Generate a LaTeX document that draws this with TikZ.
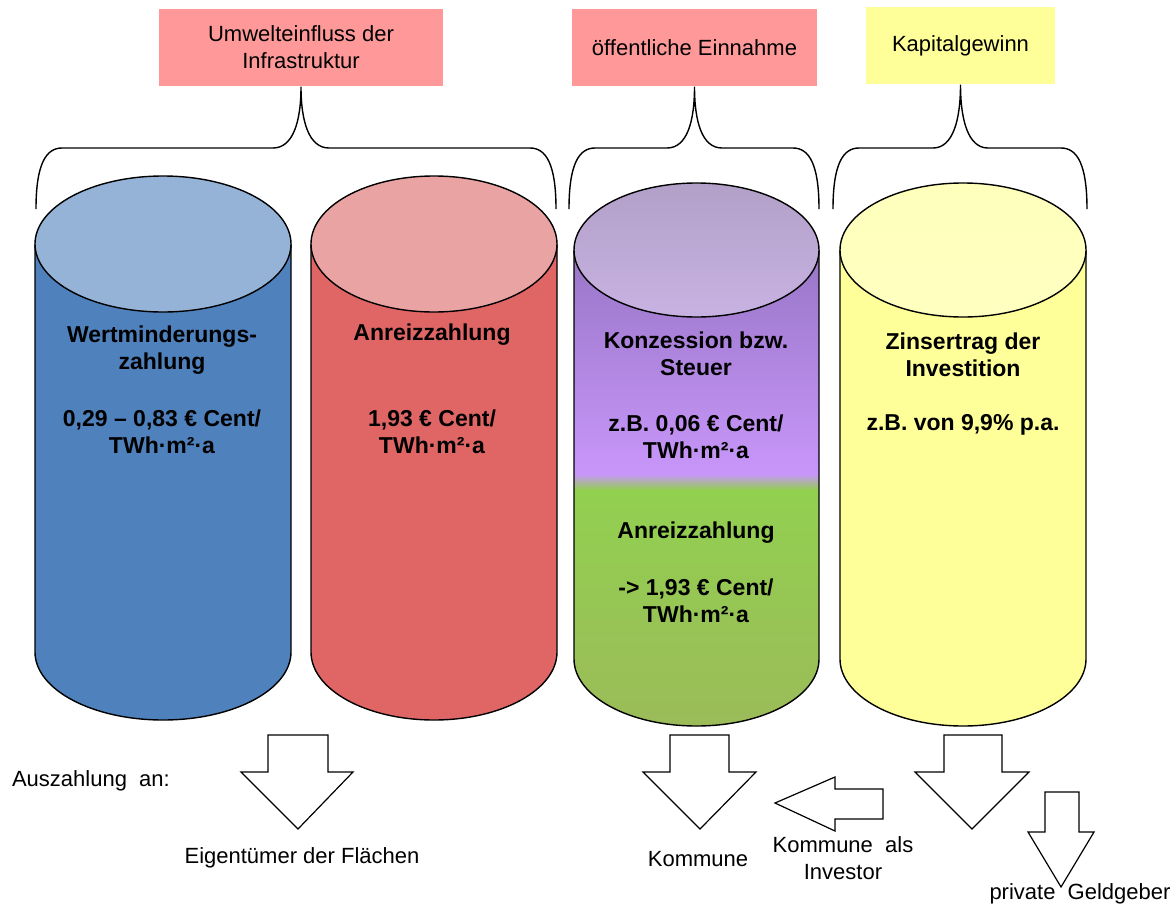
\documentclass[tikz,border=0pt]{standalone}
\usepackage{fontspec}
\setmainfont{Liberation Sans}
\usepackage{xcolor}
\usepackage{tikz}
\usetikzlibrary{positioning}
\definecolor{headred}{RGB}{255,153,153}
\definecolor{headyellow}{RGB}{255,255,153}
\definecolor{cylblue}{RGB}{79,129,189}
\definecolor{cylbluetop}{RGB}{149,179,215}
\definecolor{cylred}{RGB}{224,102,102}
\definecolor{cylredtop}{RGB}{234,163,163}
\definecolor{purpledark}{RGB}{152,118,198}
\definecolor{purplelight}{RGB}{200,150,250}
\definecolor{purpletopA}{RGB}{178,160,200}
\definecolor{purpletopB}{RGB}{200,178,226}
\definecolor{greenlight}{RGB}{146,208,80}
\definecolor{greendark}{RGB}{155,187,89}
\definecolor{cylyellow}{RGB}{255,255,153}
\definecolor{cylyellowtop}{RGB}{255,255,192}

\begin{document}
\begin{tikzpicture}[x=1pt, y=-1pt, line width=1.4pt,
    every node/.style={font=\fontsize{22}{27}\selectfont, align=center},
    headbox/.style={rectangle, minimum height=77pt, inner sep=0pt},
    cyltext/.style={font=\fontsize{23}{27}\selectfont\bfseries},
    blockarrow/.style={draw, fill=white, line width=1.2pt, line join=miter}]
        \useasboundingbox (0,0) rectangle (1176,908);

        % Header boxes
        \node[headbox, fill=headred, minimum width=284pt] (umwelt) at (301,47.5) {Umwelteinfluss der\\Infrastruktur};
        \node[headbox, fill=headred, minimum width=245pt] (einnahme) at (694.5,47.5) {öffentliche Einnahme};
        \node[headbox, fill=headyellow, minimum width=189pt] (kapital) at (960.5,45.5) {Kapitalgewinn};

        % Braces
        \coordinate (b1l) at (36,209);
        \coordinate (b1r) at (556,209);
        \coordinate (b2l) at (569,209);
        \coordinate (b2r) at (819,209);
        \coordinate (b3l) at (833,209);
        \coordinate (b3r) at (1087,209);
        \draw (b1l) .. controls +(0,-45) and +(-16,0) .. (62,148) -- (273,148)
            .. controls +(20,0) and +(0,35) .. (umwelt.south)
            .. controls +(0,35) and +(-20,0) .. (329,148) -- (530,148)
            .. controls +(16,0) and +(0,-45) .. (b1r);
        \draw (b2l) .. controls +(0,-45) and +(-16,0) .. (595,148) -- (667,148)
            .. controls +(20,0) and +(0,35) .. (einnahme.south)
            .. controls +(0,35) and +(-20,0) .. (722,148) -- (793,148)
            .. controls +(16,0) and +(0,-45) .. (b2r);
        \draw (b3l) .. controls +(0,-45) and +(-16,0) .. (859,148) -- (933,148)
            .. controls +(20,0) and +(0,35) .. (kapital.south)
            .. controls +(0,35) and +(-20,0) .. (988,148) -- (1061,148)
            .. controls +(16,0) and +(0,-45) .. (b3r);

        % Cylinder 1 (blue)
        \fill[cylblue] (35,244) -- (35,652) arc[start angle=180, end angle=360, x radius=128pt, y radius=68pt] -- (291,244) -- cycle;
        \draw (35,244) -- (35,652) arc[start angle=180, end angle=360, x radius=128pt, y radius=68pt] -- (291,244);
        \draw[fill=cylbluetop] (163,244) ellipse [x radius=128pt, y radius=68pt];

        % Cylinder 2 (red)
        \fill[cylred] (311,244) -- (311,652) arc[start angle=180, end angle=360, x radius=123pt, y radius=68pt] -- (557,244) -- cycle;
        \draw (311,244) -- (311,652) arc[start angle=180, end angle=360, x radius=123pt, y radius=68pt] -- (557,244);
        \draw[fill=cylredtop] (434,244) ellipse [x radius=123pt, y radius=68pt];

        % Cylinder 3 (purple / green)
        \begin{scope}
            \clip (574,250) -- (574,659) arc[start angle=180, end angle=360, x radius=122.5pt, y radius=67pt] -- (819,250) -- cycle;
            \shade[top color=purpledark, bottom color=purplelight] (574,250) rectangle (819,474);
            \shade[top color=purplelight, bottom color=greenlight] (574,474) rectangle (819,490);
            \shade[top color=greenlight, bottom color=greendark] (574,490) rectangle (819,727);
        \end{scope}
        \draw (574,250) -- (574,659) arc[start angle=180, end angle=360, x radius=122.5pt, y radius=67pt] -- (819,250);
        \shade[top color=purpletopA, bottom color=purpletopB, draw] (696.5,250) ellipse [x radius=122.5pt, y radius=67pt];

        % Cylinder 4 (yellow)
        \fill[cylyellow] (840,250) -- (840,659) arc[start angle=180, end angle=360, x radius=123pt, y radius=67pt] -- (1086,250) -- cycle;
        \draw (840,250) -- (840,659) arc[start angle=180, end angle=360, x radius=123pt, y radius=67pt] -- (1086,250);
        \shade[top color=cylyellowtop!90!cylyellow, bottom color=cylyellowtop, draw] (963,250) ellipse [x radius=123pt, y radius=67pt];

        % Cylinder texts
        \node[cyltext] (wert) at (162,350) {Wertminderungs-\\zahlung};
        \node[cyltext] (wertval) at (162,431.5) {0,29 – 0,83 € Cent/\\TWh·m²·a};
        \node[cyltext] (anreiz) at (432,335) {Anreizzahlung};
        \node[cyltext] (anreizval) at (432,431.5) {1,93 € Cent/\\TWh·m²·a};
        \node[cyltext] (konz) at (696,353.5) {Konzession bzw.\\Steuer};
        \node[cyltext] (konzval) at (696,436.5) {z.B. 0,06 € Cent/\\TWh·m²·a};
        \node[cyltext] (anreizk) at (696,533) {Anreizzahlung};
        \node[cyltext] (anreizkval) at (696,600.5) {-> 1,93 € Cent/\\TWh·m²·a};
        \node[cyltext] (zins) at (963,355) {Zinsertrag der\\Investition};
        \node[cyltext] (zinsval) at (963,425) {z.B. von 9,9\% p.a.};

        % Block arrows
        \draw[blockarrow] (268,735) -- (328,735) -- (328,772) -- (353,772) -- (298,829) -- (241,772) -- (268,772) -- cycle;
        \draw[blockarrow] (670,735) -- (729,735) -- (729,772) -- (756,772) -- (700,829) -- (643,772) -- (670,772) -- cycle;
        \draw[blockarrow] (883,789) -- (883,819) -- (835,819) -- (835,831) -- (775,803) -- (835,777) -- (835,789) -- cycle;
        \draw[blockarrow] (944,735) -- (1002,735) -- (1002,772) -- (1029,772) -- (972,829) -- (915,772) -- (944,772) -- cycle;
        \draw[blockarrow] (1045,792) -- (1079,792) -- (1079,832) -- (1094,832) -- (1061,887) -- (1028,832) -- (1045,832) -- cycle;

        % Payout labels
        \node[anchor=west] (auszahlung) at (8,781) {Auszahlung\ \ an:};
        \node (eigentuemer) at (302,858) {Eigentümer der Flächen};
        \node (kommune) at (698,859) {Kommune};
        \node (investor) at (843,858) {Kommune\ \ als\\Investor};
        \node (privat) at (1080,894) {private\ \ Geldgeber};
    \end{tikzpicture}
\end{document}
